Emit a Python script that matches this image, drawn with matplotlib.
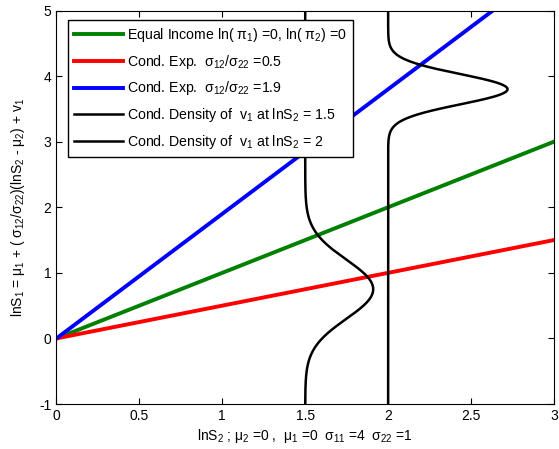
import numpy as np
import matplotlib
matplotlib.use("Agg")
import matplotlib.pyplot as plt

plt.rcParams['font.family'] = ['Liberation Sans', 'DejaVu Sans']
plt.rcParams['mathtext.fontset'] = 'custom'
plt.rcParams['mathtext.rm'] = 'Liberation Sans'
plt.rcParams['mathtext.it'] = 'Liberation Sans'
plt.rcParams['axes.unicode_minus'] = False

## slopes of the lines
slope_equal = 1.0
slope_low = 0.5
slope_high = 1.9

## density curves (base x, mean y, peak width added, sd)
dens_base = [1.5, 2.0]
dens_mean = [0.75, 3.8]
dens_peak = [0.41, 0.72]
dens_sd = [0.45, 0.23]

x_ticks = [0, 0.5, 1, 1.5, 2, 2.5, 3]
y_ticks = [-1, 0, 1, 2, 3, 4, 5]

fig = plt.figure(figsize=(5.59, 4.49), dpi=100)
ax = fig.add_axes([0.101, 0.1002, 0.890, 0.8764])

x = np.linspace(0, 3, 200)
ax.plot(x, slope_equal * x, color='#008000', lw=2.8,
        label=r'Equal Income ln( $\pi_1$) =0, ln( $\pi_2$) =0')
ax.plot(x, slope_low * x, color='red', lw=2.8,
        label=r'Cond. Exp.  $\sigma_{12}/\sigma_{22}$ =0.5')
ax.plot(x, slope_high * x, color='blue', lw=2.8,
        label=r'Cond. Exp.  $\sigma_{12}/\sigma_{22}$ =1.9')

y = np.linspace(-1, 5, 600)
labels = [r'Cond. Density of  v$_1$ at lnS$_2$ = 1.5',
          r'Cond. Density of  v$_1$ at lnS$_2$ = 2']
for i in range(2):
    dx = dens_peak[i] * np.exp(-0.5 * ((y - dens_mean[i]) / dens_sd[i]) ** 2)
    ax.plot(dens_base[i] + dx, y, color='black', lw=1.8, label=labels[i])

ax.set_xlim(0, 3)
ax.set_ylim(-1, 5)
ax.set_xticks(x_ticks)
ax.set_xticklabels(['0', '0.5', '1', '1.5', '2', '2.5', '3'])
ax.set_yticks(y_ticks)
ax.tick_params(direction='in', top=True, right=True, labelsize=10, length=4)
ax.set_xlabel(r'lnS$_2$ ; $\mu_2$ =0 ,  $\mu_1$ =0  $\sigma_{11}$ =4  $\sigma_{22}$ =1',
              fontsize=10, labelpad=3)
ax.set_ylabel(r'lnS$_1$ = $\mu_1$ + ( $\sigma_{12}/\sigma_{22}$)(lnS$_2$ - $\mu_2$) + v$_1$',
              fontsize=10, labelpad=9)

leg = ax.legend(loc='upper left', bbox_to_anchor=(0.024, 0.976), fontsize=10.2,
                fancybox=False, framealpha=1, edgecolor='black',
                handlelength=3.4, borderaxespad=0.0,
                labelspacing=0.62, handletextpad=0.35, borderpad=0.42)
leg.get_frame().set_linewidth(1.0)

fig.savefig('out.png', dpi=100)
